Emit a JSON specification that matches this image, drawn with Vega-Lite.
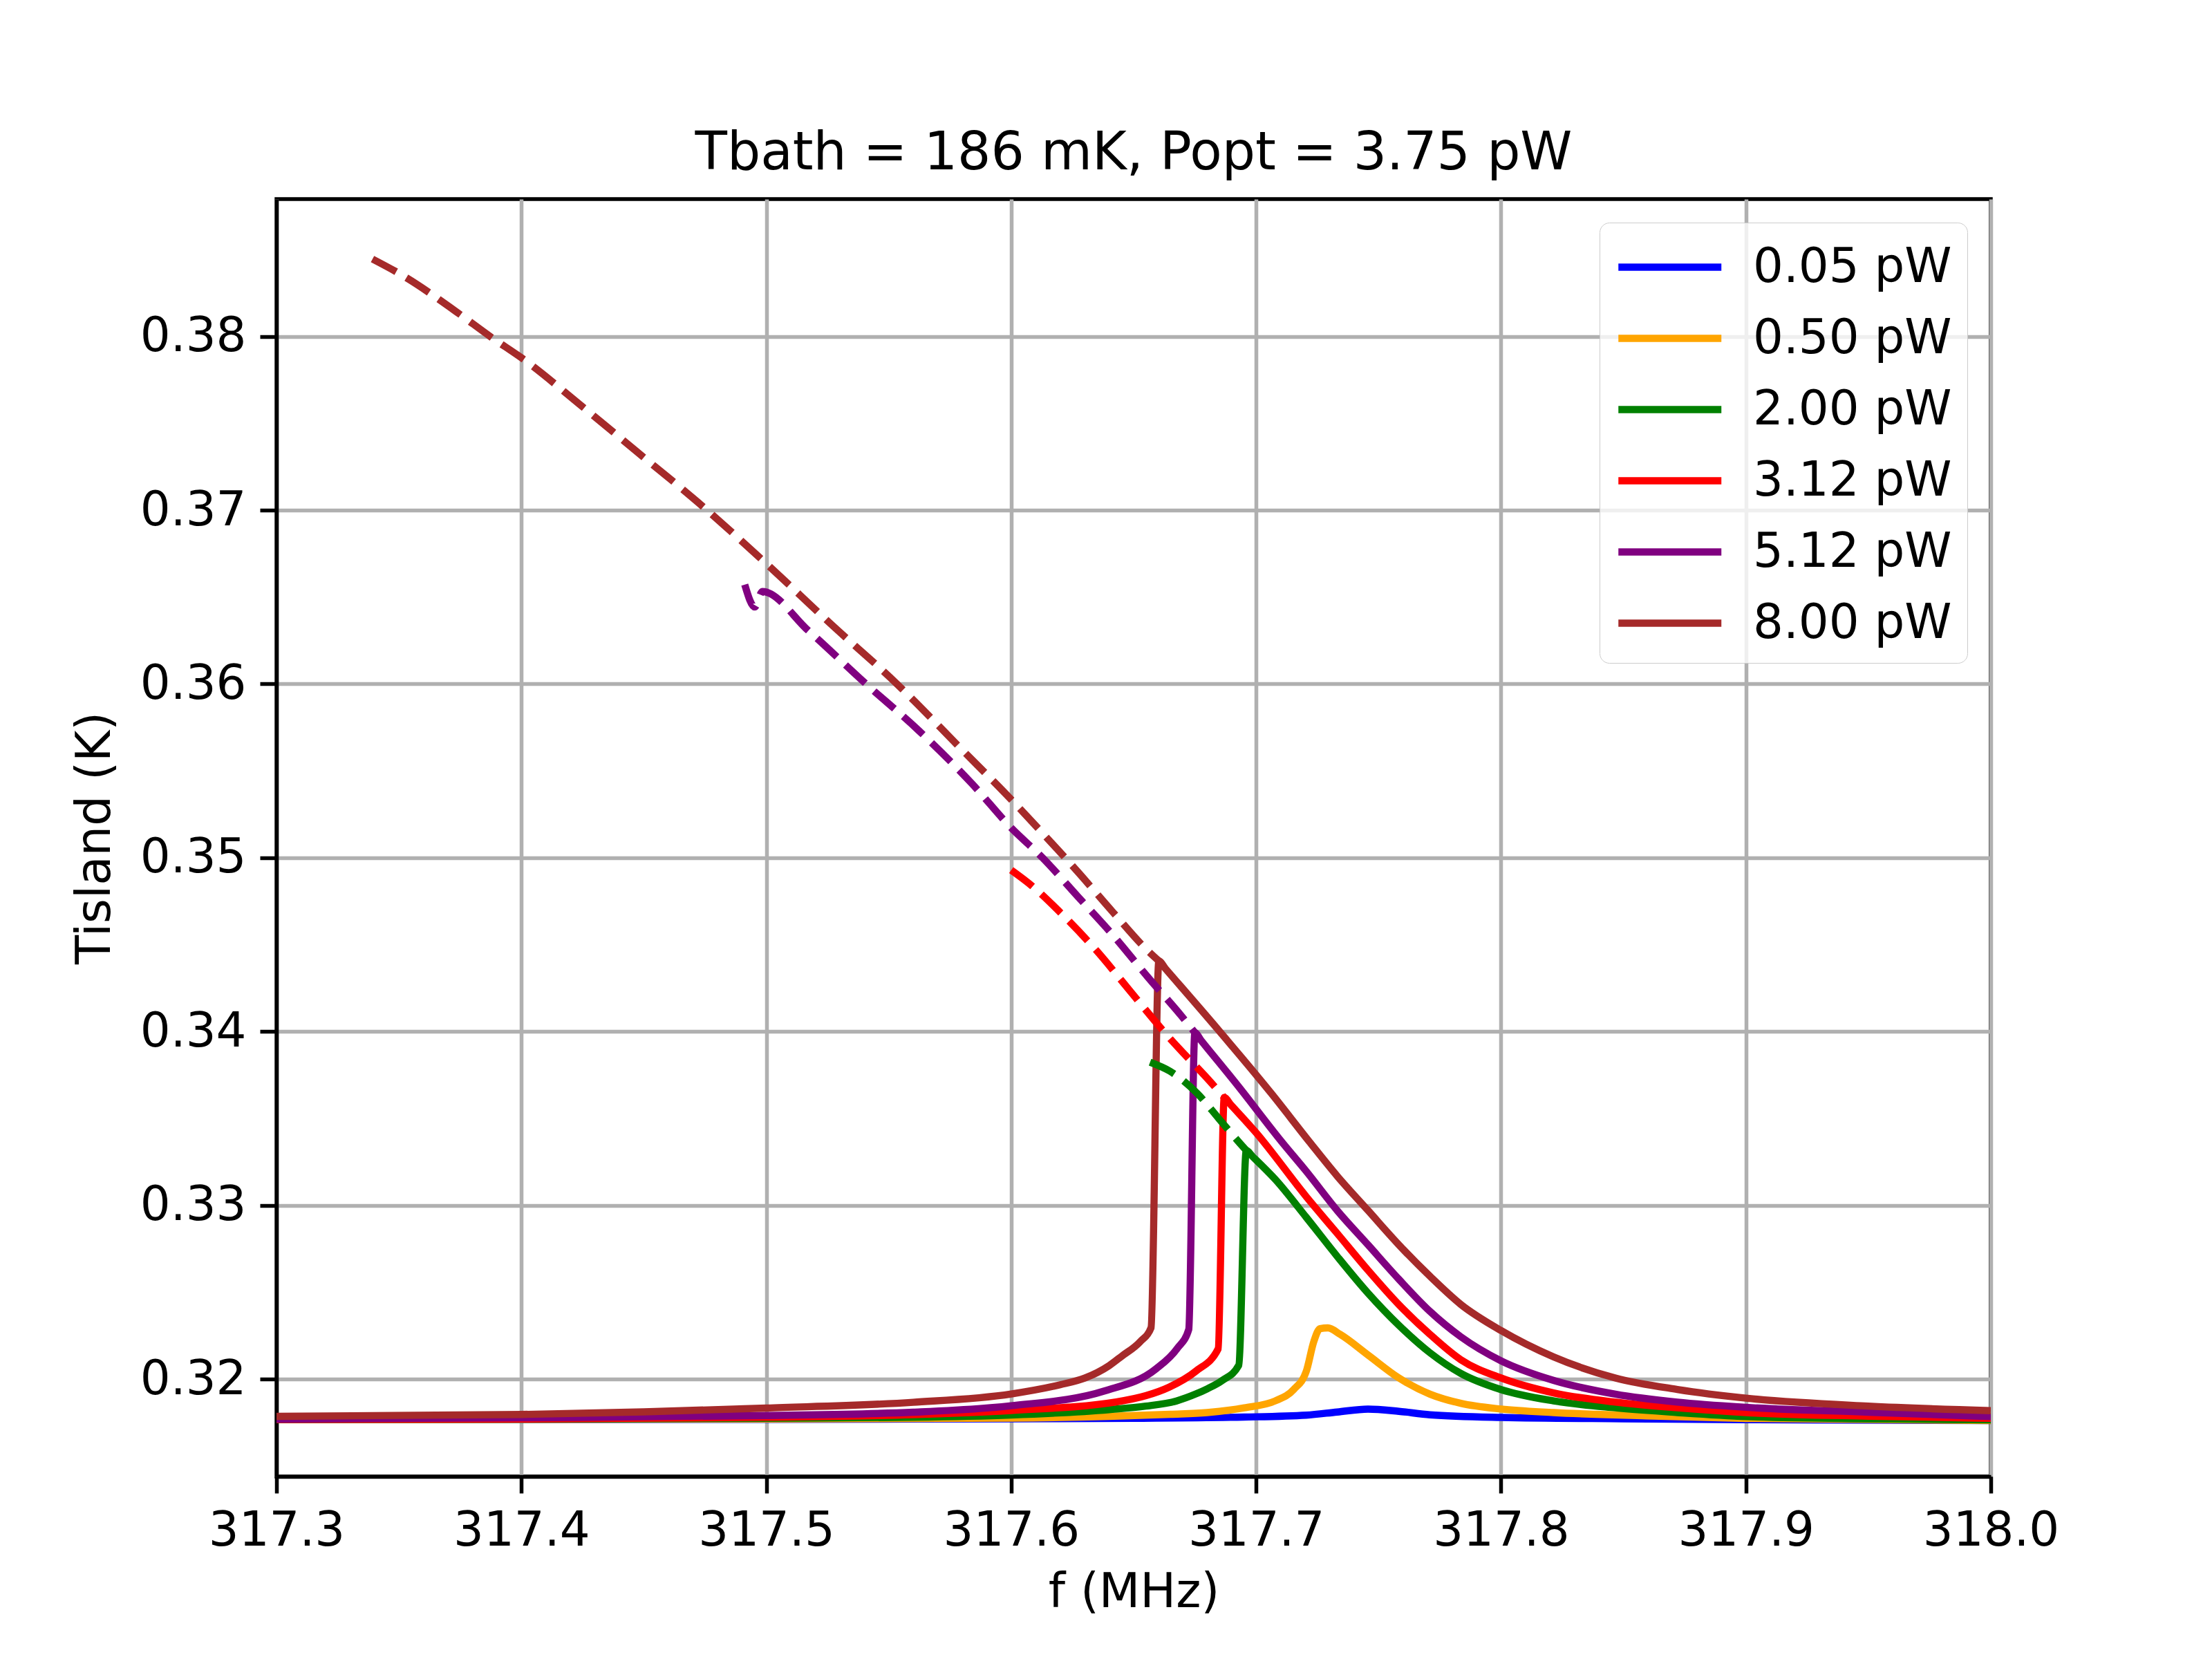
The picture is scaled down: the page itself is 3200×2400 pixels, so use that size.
{
  "$schema": "https://vega.github.io/schema/vega-lite/v6.json",
  "width": 2480,
  "height": 1848,
  "autosize": {"type": "none"},
  "padding": {"left": 400, "top": 288, "right": 320, "bottom": 264},
  "background": "white",
  "title": {
    "text": "Tbath = 186 mK, Popt = 3.75 pW",
    "font": "DejaVu Sans",
    "fontSize": 76,
    "fontWeight": "normal",
    "color": "black",
    "offset": 27,
    "anchor": "middle"
  },
  "datasets": {
    "solid": [
      {"p": "0.05 pW", "f": 317.30, "t": 0.31768},
      {"p": "0.05 pW", "f": 317.40, "t": 0.31768},
      {"p": "0.05 pW", "f": 317.50, "t": 0.31769},
      {"p": "0.05 pW", "f": 317.60, "t": 0.31772},
      {"p": "0.05 pW", "f": 317.65, "t": 0.31775},
      {"p": "0.05 pW", "f": 317.695, "t": 0.31782},
      {"p": "0.05 pW", "f": 317.7205, "t": 0.31793},
      {"p": "0.05 pW", "f": 317.7331, "t": 0.31811},
      {"p": "0.05 pW", "f": 317.7457, "t": 0.31828},
      {"p": "0.05 pW", "f": 317.7583, "t": 0.31815},
      {"p": "0.05 pW", "f": 317.771, "t": 0.31795},
      {"p": "0.05 pW", "f": 317.80, "t": 0.31780},
      {"p": "0.05 pW", "f": 317.85, "t": 0.31772},
      {"p": "0.05 pW", "f": 317.90, "t": 0.31767},
      {"p": "0.05 pW", "f": 318.00, "t": 0.31762},

      {"p": "0.50 pW", "f": 317.30, "t": 0.31768},
      {"p": "0.50 pW", "f": 317.40, "t": 0.31769},
      {"p": "0.50 pW", "f": 317.50, "t": 0.31771},
      {"p": "0.50 pW", "f": 317.60, "t": 0.31776},
      {"p": "0.50 pW", "f": 317.64, "t": 0.31786},
      {"p": "0.50 pW", "f": 317.665, "t": 0.31798},
      {"p": "0.50 pW", "f": 317.68, "t": 0.31808},
      {"p": "0.50 pW", "f": 317.6952, "t": 0.31835},
      {"p": "0.50 pW", "f": 317.7078, "t": 0.31875},
      {"p": "0.50 pW", "f": 317.7154, "t": 0.31941},
      {"p": "0.50 pW", "f": 317.7205, "t": 0.32046},
      {"p": "0.50 pW", "f": 317.7236, "t": 0.32218},
      {"p": "0.50 pW", "f": 317.7261, "t": 0.32291},
      {"p": "0.50 pW", "f": 317.7293, "t": 0.32295},
      {"p": "0.50 pW", "f": 317.7343, "t": 0.32258},
      {"p": "0.50 pW", "f": 317.7457, "t": 0.32139},
      {"p": "0.50 pW", "f": 317.7583, "t": 0.32007},
      {"p": "0.50 pW", "f": 317.771, "t": 0.31914},
      {"p": "0.50 pW", "f": 317.7836, "t": 0.31861},
      {"p": "0.50 pW", "f": 317.80, "t": 0.31828},
      {"p": "0.50 pW", "f": 317.8215, "t": 0.31808},
      {"p": "0.50 pW", "f": 317.8593, "t": 0.31789},
      {"p": "0.50 pW", "f": 317.90, "t": 0.31774},
      {"p": "0.50 pW", "f": 318.00, "t": 0.31762},

      {"p": "2.00 pW", "f": 317.30, "t": 0.31768},
      {"p": "2.00 pW", "f": 317.40, "t": 0.31770},
      {"p": "2.00 pW", "f": 317.50, "t": 0.31775},
      {"p": "2.00 pW", "f": 317.56, "t": 0.31781},
      {"p": "2.00 pW", "f": 317.60, "t": 0.31794},
      {"p": "2.00 pW", "f": 317.64, "t": 0.31825},
      {"p": "2.00 pW", "f": 317.655, "t": 0.31845},
      {"p": "2.00 pW", "f": 317.6675, "t": 0.31875},
      {"p": "2.00 pW", "f": 317.6754, "t": 0.31915},
      {"p": "2.00 pW", "f": 317.6801, "t": 0.31945},
      {"p": "2.00 pW", "f": 317.6862, "t": 0.31993},
      {"p": "2.00 pW", "f": 317.6929, "t": 0.32079},
      {"p": "2.00 pW", "f": 317.696, "t": 0.33316},
      {"p": "2.00 pW", "f": 317.6985, "t": 0.33282},
      {"p": "2.00 pW", "f": 317.7078, "t": 0.33150},
      {"p": "2.00 pW", "f": 317.7205, "t": 0.32931},
      {"p": "2.00 pW", "f": 317.7331, "t": 0.32707},
      {"p": "2.00 pW", "f": 317.7457, "t": 0.32495},
      {"p": "2.00 pW", "f": 317.7583, "t": 0.32310},
      {"p": "2.00 pW", "f": 317.771, "t": 0.32152},
      {"p": "2.00 pW", "f": 317.7836, "t": 0.32033},
      {"p": "2.00 pW", "f": 317.80, "t": 0.31940},
      {"p": "2.00 pW", "f": 317.8215, "t": 0.31875},
      {"p": "2.00 pW", "f": 317.8467, "t": 0.31835},
      {"p": "2.00 pW", "f": 317.872, "t": 0.31808},
      {"p": "2.00 pW", "f": 317.90, "t": 0.31785},
      {"p": "2.00 pW", "f": 317.95, "t": 0.31772},
      {"p": "2.00 pW", "f": 318.00, "t": 0.31766},

      {"p": "3.12 pW", "f": 317.30, "t": 0.31768},
      {"p": "3.12 pW", "f": 317.40, "t": 0.31771},
      {"p": "3.12 pW", "f": 317.50, "t": 0.31781},
      {"p": "3.12 pW", "f": 317.56, "t": 0.31796},
      {"p": "3.12 pW", "f": 317.60, "t": 0.31820},
      {"p": "3.12 pW", "f": 317.6429, "t": 0.31869},
      {"p": "3.12 pW", "f": 317.655, "t": 0.31905},
      {"p": "3.12 pW", "f": 317.6645, "t": 0.31954},
      {"p": "3.12 pW", "f": 317.6754, "t": 0.32046},
      {"p": "3.12 pW", "f": 317.6845, "t": 0.32174},
      {"p": "3.12 pW", "f": 317.687, "t": 0.33621},
      {"p": "3.12 pW", "f": 317.6895, "t": 0.33582},
      {"p": "3.12 pW", "f": 317.70, "t": 0.33418},
      {"p": "3.12 pW", "f": 317.7205, "t": 0.33050},
      {"p": "3.12 pW", "f": 317.7331, "t": 0.32839},
      {"p": "3.12 pW", "f": 317.7457, "t": 0.32627},
      {"p": "3.12 pW", "f": 317.7583, "t": 0.32429},
      {"p": "3.12 pW", "f": 317.771, "t": 0.32258},
      {"p": "3.12 pW", "f": 317.7836, "t": 0.32112},
      {"p": "3.12 pW", "f": 317.80, "t": 0.32007},
      {"p": "3.12 pW", "f": 317.8215, "t": 0.31921},
      {"p": "3.12 pW", "f": 317.8467, "t": 0.31868},
      {"p": "3.12 pW", "f": 317.872, "t": 0.31835},
      {"p": "3.12 pW", "f": 317.90, "t": 0.31808},
      {"p": "3.12 pW", "f": 317.95, "t": 0.31787},
      {"p": "3.12 pW", "f": 318.00, "t": 0.31775},

      {"p": "5.12 pW", "f": 317.30, "t": 0.31770},
      {"p": "5.12 pW", "f": 317.40, "t": 0.31778},
      {"p": "5.12 pW", "f": 317.50, "t": 0.31791},
      {"p": "5.12 pW", "f": 317.56, "t": 0.31810},
      {"p": "5.12 pW", "f": 317.60, "t": 0.31847},
      {"p": "5.12 pW", "f": 317.6383, "t": 0.31933},
      {"p": "5.12 pW", "f": 317.6591, "t": 0.32059},
      {"p": "5.12 pW", "f": 317.6678, "t": 0.32177},
      {"p": "5.12 pW", "f": 317.6725, "t": 0.32286},
      {"p": "5.12 pW", "f": 317.675, "t": 0.33994},
      {"p": "5.12 pW", "f": 317.6775, "t": 0.33950},
      {"p": "5.12 pW", "f": 317.6927, "t": 0.33686},
      {"p": "5.12 pW", "f": 317.7104, "t": 0.33367},
      {"p": "5.12 pW", "f": 317.7205, "t": 0.33196},
      {"p": "5.12 pW", "f": 317.7331, "t": 0.32971},
      {"p": "5.12 pW", "f": 317.7457, "t": 0.32773},
      {"p": "5.12 pW", "f": 317.7583, "t": 0.32575},
      {"p": "5.12 pW", "f": 317.771, "t": 0.32390},
      {"p": "5.12 pW", "f": 317.7836, "t": 0.32244},
      {"p": "5.12 pW", "f": 317.80, "t": 0.32106},
      {"p": "5.12 pW", "f": 317.8215, "t": 0.31993},
      {"p": "5.12 pW", "f": 317.8467, "t": 0.31914},
      {"p": "5.12 pW", "f": 317.872, "t": 0.31868},
      {"p": "5.12 pW", "f": 317.90, "t": 0.31838},
      {"p": "5.12 pW", "f": 317.95, "t": 0.31810},
      {"p": "5.12 pW", "f": 318.00, "t": 0.31785},

      {"p": "8.00 pW", "f": 317.30, "t": 0.31786},
      {"p": "8.00 pW", "f": 317.40, "t": 0.31797},
      {"p": "8.00 pW", "f": 317.45, "t": 0.31812},
      {"p": "8.00 pW", "f": 317.50, "t": 0.31834},
      {"p": "8.00 pW", "f": 317.56, "t": 0.31867},
      {"p": "8.00 pW", "f": 317.60, "t": 0.31915},
      {"p": "8.00 pW", "f": 317.62, "t": 0.31968},
      {"p": "8.00 pW", "f": 317.63, "t": 0.32006},
      {"p": "8.00 pW", "f": 317.64, "t": 0.32078},
      {"p": "8.00 pW", "f": 317.6451, "t": 0.32132},
      {"p": "8.00 pW", "f": 317.6526, "t": 0.32215},
      {"p": "8.00 pW", "f": 317.6571, "t": 0.32296},
      {"p": "8.00 pW", "f": 317.6603, "t": 0.34406},
      {"p": "8.00 pW", "f": 317.6630, "t": 0.34362},
      {"p": "8.00 pW", "f": 317.6848, "t": 0.34006},
      {"p": "8.00 pW", "f": 317.7064, "t": 0.33641},
      {"p": "8.00 pW", "f": 317.7217, "t": 0.33367},
      {"p": "8.00 pW", "f": 317.7331, "t": 0.33169},
      {"p": "8.00 pW", "f": 317.7457, "t": 0.32971},
      {"p": "8.00 pW", "f": 317.7583, "t": 0.32773},
      {"p": "8.00 pW", "f": 317.771, "t": 0.32592},
      {"p": "8.00 pW", "f": 317.7836, "t": 0.32430},
      {"p": "8.00 pW", "f": 317.80, "t": 0.32280},
      {"p": "8.00 pW", "f": 317.8215, "t": 0.32128},
      {"p": "8.00 pW", "f": 317.8467, "t": 0.32007},
      {"p": "8.00 pW", "f": 317.872, "t": 0.31941},
      {"p": "8.00 pW", "f": 317.90, "t": 0.31891},
      {"p": "8.00 pW", "f": 317.95, "t": 0.31845},
      {"p": "8.00 pW", "f": 318.00, "t": 0.31819}
    ],
    "dashed": [
      {"p": "2.00 pW", "f": 317.6567, "t": 0.33824},
      {"p": "2.00 pW", "f": 317.6647, "t": 0.33773},
      {"p": "2.00 pW", "f": 317.6762, "t": 0.33641},
      {"p": "2.00 pW", "f": 317.6848, "t": 0.33499},
      {"p": "2.00 pW", "f": 317.6934, "t": 0.33357},
      {"p": "2.00 pW", "f": 317.696, "t": 0.33316},

      {"p": "3.12 pW", "f": 317.60, "t": 0.34929},
      {"p": "3.12 pW", "f": 317.6085, "t": 0.34838},
      {"p": "3.12 pW", "f": 317.62, "t": 0.34686},
      {"p": "3.12 pW", "f": 317.6344, "t": 0.34473},
      {"p": "3.12 pW", "f": 317.6488, "t": 0.34229},
      {"p": "3.12 pW", "f": 317.6632, "t": 0.33986},
      {"p": "3.12 pW", "f": 317.6819, "t": 0.33702},
      {"p": "3.12 pW", "f": 317.687, "t": 0.33621},

      {"p": "5.12 pW", "f": 317.4912, "t": 0.36572},
      {"p": "5.12 pW", "f": 317.4953, "t": 0.36443},
      {"p": "5.12 pW", "f": 317.4984, "t": 0.36532},
      {"p": "5.12 pW", "f": 317.5173, "t": 0.36305},
      {"p": "5.12 pW", "f": 317.5406, "t": 0.36002},
      {"p": "5.12 pW", "f": 317.5624, "t": 0.35730},
      {"p": "5.12 pW", "f": 317.584, "t": 0.35426},
      {"p": "5.12 pW", "f": 317.60, "t": 0.35172},
      {"p": "5.12 pW", "f": 317.6128, "t": 0.35000},
      {"p": "5.12 pW", "f": 317.6272, "t": 0.34777},
      {"p": "5.12 pW", "f": 317.6416, "t": 0.34554},
      {"p": "5.12 pW", "f": 317.656, "t": 0.34310},
      {"p": "5.12 pW", "f": 317.6697, "t": 0.34087},
      {"p": "5.12 pW", "f": 317.675, "t": 0.33994},

      {"p": "8.00 pW", "f": 317.3392, "t": 0.38445},
      {"p": "8.00 pW", "f": 317.3518, "t": 0.38348},
      {"p": "8.00 pW", "f": 317.3734, "t": 0.38142},
      {"p": "8.00 pW", "f": 317.3878, "t": 0.37994},
      {"p": "8.00 pW", "f": 317.4004, "t": 0.37873},
      {"p": "8.00 pW", "f": 317.4237, "t": 0.37610},
      {"p": "8.00 pW", "f": 317.4471, "t": 0.37337},
      {"p": "8.00 pW", "f": 317.4723, "t": 0.37043},
      {"p": "8.00 pW", "f": 317.5002, "t": 0.36690},
      {"p": "8.00 pW", "f": 317.5263, "t": 0.36346},
      {"p": "8.00 pW", "f": 317.5532, "t": 0.36002},
      {"p": "8.00 pW", "f": 317.5802, "t": 0.35618},
      {"p": "8.00 pW", "f": 317.60, "t": 0.35335},
      {"p": "8.00 pW", "f": 317.6128, "t": 0.35142},
      {"p": "8.00 pW", "f": 317.6272, "t": 0.34919},
      {"p": "8.00 pW", "f": 317.6416, "t": 0.34686},
      {"p": "8.00 pW", "f": 317.656, "t": 0.34462},
      {"p": "8.00 pW", "f": 317.6603, "t": 0.34406}
    ]
  },
  "encoding": {
    "x": {
      "field": "f",
      "type": "quantitative",
      "title": "f (MHz)",
      "scale": {"domain": [317.3, 318.0], "nice": false, "zero": false},
      "axis": {"values": [317.3, 317.4, 317.5, 317.6, 317.7, 317.8, 317.9, 318.0], "format": ".1f"}
    },
    "y": {
      "field": "t",
      "type": "quantitative",
      "title": "Tisland (K)",
      "scale": {"domain": [0.3144, 0.3879], "nice": false, "zero": false},
      "axis": {"values": [0.32, 0.33, 0.34, 0.35, 0.36, 0.37, 0.38], "format": ".2f"}
    },
    "color": {
      "field": "p",
      "type": "nominal",
      "title": null,
      "scale": {
        "domain": ["0.05 pW", "0.50 pW", "2.00 pW", "3.12 pW", "5.12 pW", "8.00 pW"],
        "range": ["#0000ff", "#ffa500", "#008000", "#ff0000", "#800080", "#a52a2a"]
      },
      "legend": {
        "orient": "top-right",
        "offset": 34,
        "padding": 22,
        "symbolType": "M-1,0H3",
        "symbolSize": 5550,
        "symbolStrokeWidth": 10.4,
        "labelFontSize": 69,
        "labelFont": "DejaVu Sans",
        "labelColor": "black",
        "labelLimit": 0,
        "labelOffset": 115,
        "rowPadding": 25,
        "fillColor": "rgba(255,255,255,0.8)",
        "strokeColor": "#cccccc",
        "cornerRadius": 14
      }
    }
  },
  "layer": [
    {
      "data": {"name": "solid"},
      "mark": {"type": "line", "strokeWidth": 10.4, "strokeJoin": "round", "interpolate": "monotone", "clip": true}
    },
    {
      "data": {"name": "dashed"},
      "mark": {"type": "line", "strokeWidth": 10.4, "strokeJoin": "round", "interpolate": "monotone", "strokeDash": [39, 17], "clip": true}
    }
  ],
  "config": {
    "font": "DejaVu Sans",
    "view": {"stroke": "black", "strokeWidth": 5.5},
    "axis": {
      "domainColor": "black",
      "domainWidth": 5.5,
      "tickColor": "black",
      "tickWidth": 5.5,
      "tickSize": 24,
      "labelFont": "DejaVu Sans",
      "labelFontSize": 69,
      "labelColor": "black",
      "labelPadding": 20,
      "labelLimit": 0,
      "titleFont": "DejaVu Sans",
      "titleFontSize": 69,
      "titleFontWeight": "normal",
      "titleColor": "black",
      "grid": true,
      "gridColor": "#b0b0b0",
      "gridWidth": 5.5,
      "labelFlush": false,
      "labelOverlap": false
    },
    "axisX": {"titlePadding": 20},
    "axisY": {"titlePadding": 30}
  }
}
